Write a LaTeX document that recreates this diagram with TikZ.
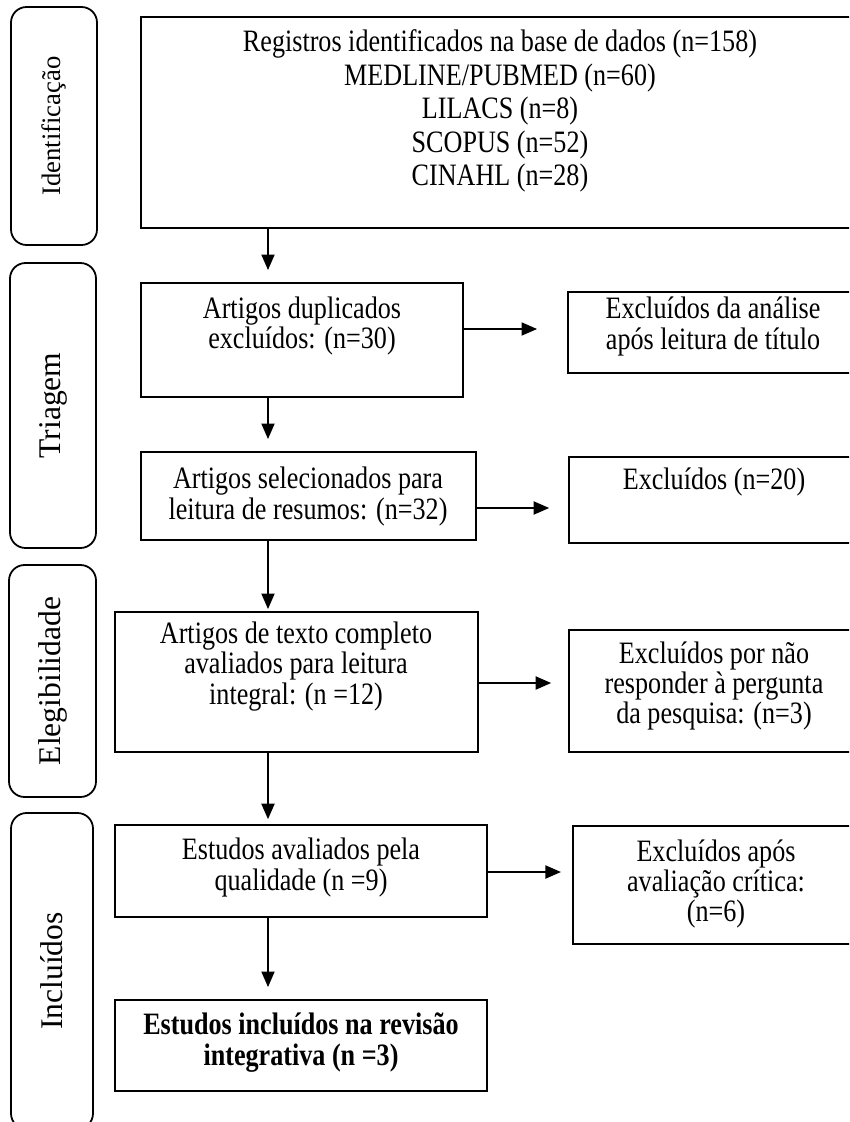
\documentclass[tikz,border=0pt]{standalone}
\usepackage{fontspec}
\setmainfont[FakeStretch=0.84]{Liberation Serif}
\newfontfamily\phasefont{Liberation Serif}
\usetikzlibrary{arrows.meta}

\begin{document}
\begin{tikzpicture}[x=0.45pt,y=0.45pt,yscale=-1,xscale=1,
  pbox/.style 2 args={draw, line width=0.8pt, minimum width=#1*0.45pt, minimum height=#2*0.45pt, inner sep=0pt},
  phase/.style 2 args={draw, line width=0.8pt, rounded corners=7pt, rotate=90, minimum width=#1*0.45pt, minimum height=#2*0.45pt, inner sep=0pt},
  txt/.style={align=center, inner sep=0pt, font=\fontsize{14}{13.6}\selectfont},
  flow/.style={line width=1pt, -{Triangle[length=7pt,width=5.8pt]}}]
\useasboundingbox (0,0) rectangle (849,1122);
\clip (0,0) rectangle (849,1122);

%Shape: phase boxes
\node[phase={238}{86}, font=\phasefont\fontsize{12}{14}\selectfont] (ident) at (54,126) {Identificação};
\node[phase={285}{86}, font=\phasefont\fontsize{14.2}{17}\selectfont] (triag) at (53,405.5) {Triagem};
\node[phase={232}{87}, font=\phasefont\fontsize{14.2}{17}\selectfont] (elegi) at (52.5,681) {Elegibilidade};
\node[phase={316}{82}, font=\phasefont\fontsize{14.2}{17}\selectfont] (inclu) at (52,971) {Incluídos};

%Shape: main column
\node[pbox={718}{211}] (reg) at (500,122.5) {};
\node[pbox={322}{114}] (dup) at (302,340) {};
\node[pbox={335}{88}] (sel) at (308.5,496) {};
\node[pbox={363}{140}] (comp) at (296.5,682) {};
\node[pbox={372}{92}] (qual) at (301,871) {};
\node[pbox={372}{91}] (incl) at (301,1045.5) {};

%Shape: excluded column
\node[pbox={291}{81}] (excA) at (713.5,332.5) {};
\node[pbox={290}{86}] (excB) at (714,500) {};
\node[pbox={290}{122}] (excC) at (714,691) {};
\node[pbox={286}{118}] (excD) at (716,885) {};

% Text Node
\node[txt, font=\fontsize{14}{15.1}\selectfont] (regt) at (500,111) {Registros identificados na base de dados (n=158)\\MEDLINE/PUBMED (n=60)\\LILACS (n=8)\\SCOPUS (n=52)\\CINAHL (n=28)};
\node[txt] (dupt) at (302,326) {Artigos duplicados\\excluídos: (n=30)};
\node[txt] (selt) at (308,496.5) {Artigos selecionados para\\leitura de resumos: (n=32)};
\node[txt] (compt) at (296,666.5) {Artigos de texto completo\\avaliados para leitura\\integral: (n =12)};
\node[txt] (qualt) at (301,867.5) {Estudos avaliados pela\\qualidade (n =9)};
\node[txt, font=\fontsize{14}{13.6}\selectfont\bfseries] (inclt) at (301,1042.5) {Estudos incluídos na revisão\\integrativa (n =3)};
\node[txt] (excAt) at (713,326.5) {Excluídos da análise\\após leitura de título};
\node[txt] (excBt) at (714,482) {Excluídos (n=20)};
\node[txt] (excCt) at (714,686) {Excluídos por não\\responder à pergunta\\da pesquisa: (n=3)};
\node[txt] (excDt) at (716,884) {Excluídos após\\avaliação crítica:\\(n=6)};

%Straight Lines
\coordinate (spine) at (268,0);
\coordinate (rA) at (0,329);
\coordinate (rB) at (0,508);
\coordinate (rC) at (0,683);
\coordinate (rD) at (0,872);
\draw[flow, shorten >=5.4pt] (reg.south -| spine) -- (dup.north -| spine);
\draw[flow, shorten >=5.4pt] (dup.south -| spine) -- (sel.north -| spine);
\draw[flow, shorten >=0.9pt] (sel.south -| spine) -- (comp.north -| spine);
\draw[flow, shorten >=2.2pt] (comp.south -| spine) -- (qual.north -| spine);
\draw[flow, shorten >=5.4pt] (qual.south -| spine) -- (incl.north -| spine);
\draw[flow, shorten >=13.5pt] (dup.east |- rA) -- (excA.west |- rA);
\draw[flow, shorten >=8.5pt] (sel.east |- rB) -- (excB.west |- rB);
\draw[flow, shorten >=7.6pt] (comp.east |- rC) -- (excC.west |- rC);
\draw[flow, shorten >=5pt] (qual.east |- rD) -- (excD.west |- rD);

\end{tikzpicture}
\end{document}
